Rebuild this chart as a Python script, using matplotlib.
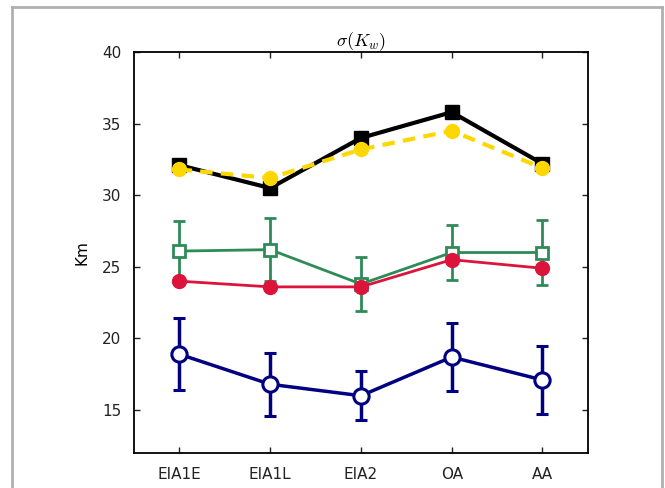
import matplotlib
matplotlib.use("Agg")
import matplotlib.pyplot as plt
from matplotlib.lines import Line2D

plt.rcParams["mathtext.fontset"] = "cm"

groups = ["EIA1E", "EIA1L", "EIA2", "OA", "AA"]

black_vals = [32.1, 30.5, 34.0, 35.8, 32.2]
yellow_vals = [31.8, 31.2, 33.2, 34.5, 31.9]
green_vals = [26.1, 26.2, 23.8, 26.0, 26.0]
green_err = [2.1, 2.2, 1.9, 1.9, 2.3]
red_vals = [24.0, 23.6, 23.6, 25.5, 24.9]
blue_vals = [18.9, 16.8, 16.0, 18.7, 17.1]
blue_err = [2.5, 2.2, 1.7, 2.4, 2.4]

x = list(range(len(groups)))

fig = plt.figure(figsize=(6.65, 4.88), dpi=100)
ax = fig.add_axes([0.2015, 0.0717, 0.6825, 0.8217])

ax.errorbar(x, blue_vals, yerr=blue_err, color="#000080", lw=2.5, marker="o",
            ms=11, mfc="white", mec="#000080", mew=2.2, capsize=4, capthick=2.2,
            elinewidth=2.5, zorder=2)
ax.errorbar(x, green_vals, yerr=green_err, color="#2E8B57", lw=2, marker="s",
            ms=9, mfc="white", mec="#2E8B57", mew=2, capsize=4, capthick=2,
            elinewidth=2, zorder=3)
ax.plot(x, red_vals, color="#DC143C", lw=2, marker="o", ms=10, zorder=4)
ax.plot(x, black_vals, color="black", lw=3, marker="s", ms=10, zorder=5)
ax.plot(x, yellow_vals, color="#FFD700", lw=3, ls="--", dashes=(3, 2),
        marker="o", ms=10, zorder=6)

ax.set_xlim(-0.5, 4.5)
ax.set_ylim(12, 40)
ax.set_xticks(x)
ax.set_xticklabels(groups)
ax.set_yticks([15, 20, 25, 30, 35, 40])
ax.tick_params(direction="in", length=4, width=1, top=True, right=True,
               labelsize=11, colors="#222222")
ax.tick_params(axis="y", pad=9)
ax.tick_params(axis="x", pad=10)
for s in ax.spines.values():
    s.set_linewidth(1.3)
ax.set_ylabel("Km", fontsize=11, labelpad=9)
ax.set_title(r"$\sigma(K_w)$", fontsize=13, pad=4)

# thin gray frame round the figure
frame = dict(color="#b0b0b0", lw=2, transform=fig.transFigure)
fig.add_artist(Line2D([12 / 665, 12 / 665], [0, 1 - 7 / 488], **frame))
fig.add_artist(Line2D([12 / 665, 662 / 665], [1 - 7 / 488, 1 - 7 / 488], **frame))
fig.add_artist(Line2D([662 / 665, 662 / 665], [0, 1 - 7 / 488], **frame))

fig.savefig("out.png", dpi=100)
